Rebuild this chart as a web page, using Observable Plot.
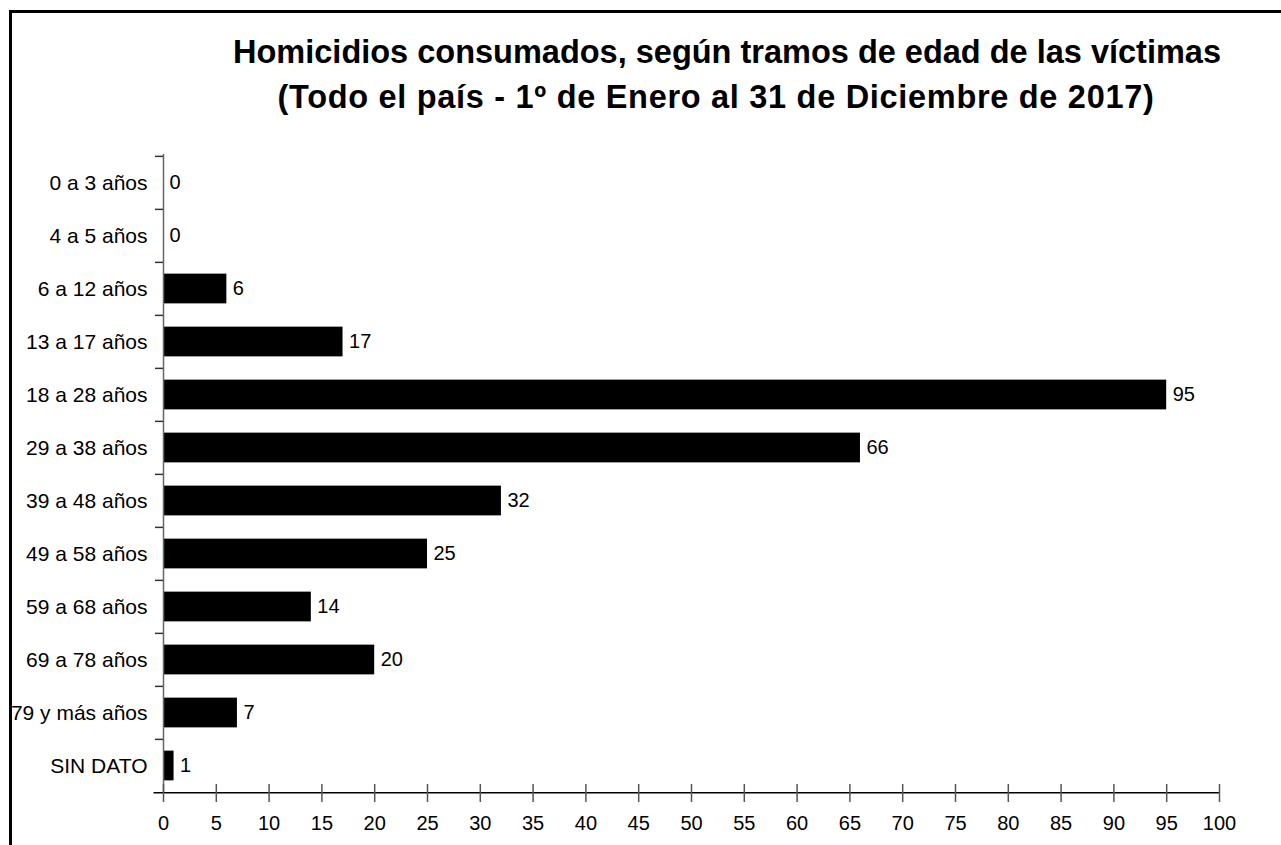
<!DOCTYPE html>
<html>
<head>
<meta charset="utf-8">
<script src="https://cdn.jsdelivr.net/npm/d3@7"></script>
<script src="https://cdn.jsdelivr.net/npm/@observablehq/plot@0.6"></script>
<style>
  html, body { margin: 0; padding: 0; background: #fff; }
  #wrap { position: relative; width: 1281px; height: 845px; overflow: hidden; font-family: "Liberation Sans", Arial, sans-serif; }
  #frame { position: absolute; left: 9px; top: 10px; right: -10px; bottom: -10px; border-left: 3px solid #000; border-top: 3px solid #000; z-index: 5; pointer-events: none; }
  .tline { position: absolute; width: 1200px; text-align: center; font-weight: bold; font-size: 32.5px; line-height: 44px; color: #000; z-index: 2; white-space: nowrap; }
  #t1 { left: 127px; top: 30px; }
  #t2 { left: 116px; top: 75px; letter-spacing: 0.7px; }
  #chart { position: absolute; left: 0; top: 0; }
</style>
</head>
<body>
<div id="wrap">
  <div id="frame"></div>
  <div class="tline" id="t1">Homicidios consumados, según tramos de edad de las víctimas</div>
  <div class="tline" id="t2">(Todo el país - 1º de Enero al 31 de Diciembre de 2017)</div>
  <div id="chart"></div>
</div>
<script>
const categories = ["0 a 3 años", "4 a 5 años", "6 a 12 años", "13 a 17 años", "18 a 28 años", "29 a 38 años", "39 a 48 años", "49 a 58 años", "59 a 68 años", "69 a 78 años", "79 y más años", "SIN DATO"];
const values = [0, 0, 6, 17, 95, 66, 32, 25, 14, 20, 7, 1];
const xTicks = d3.range(0, 101, 5);

const data = categories.map((c, i) => ({category: c, value: values[i]}));

const W = 1281, H = 845;
const mTop = 154, mBottom = 52, mLeft = 163, mRight = 62;
const innerH = H - mTop - mBottom;
const step = innerH / categories.length;
const barH = 30;
const inset = (step - barH) / 2;

const plot = Plot.plot({
  width: W,
  height: H,
  marginTop: mTop,
  marginBottom: mBottom,
  marginLeft: mLeft,
  marginRight: mRight,
  style: {fontFamily: "'Liberation Sans', Arial, sans-serif", fontSize: "21px", color: "#000", background: "transparent"},
  x: {domain: [0, 100], ticks: xTicks, label: null},
  y: {domain: categories, padding: 0, label: null},
  marks: [
    Plot.barX(data, {x: "value", y: "category", fill: "#000", insetTop: inset, insetBottom: inset}),
    Plot.text(data, {x: "value", y: "category", text: d => String(d.value), textAnchor: "start", dx: 6, fontSize: 20, fill: "#000"}),
    Plot.ruleX([0], {stroke: "#666", strokeWidth: 1.5}),
    Plot.ruleY(categories, {y: d => d, dy: -step / 2, x1: 0, x2: 0, insetLeft: -8, stroke: "#333", strokeWidth: 1.5}),
    Plot.ruleY([0], {y: () => categories[categories.length - 1], dy: step / 2, x1: -0.9, x2: 100, stroke: "#000", strokeWidth: 1.5}),
    Plot.tickX(xTicks, {x: d => d, insetTop: innerH - 9, stroke: "#555", strokeWidth: 1.5}),
    Plot.axisX({ticks: xTicks, tickSize: 9, tickPadding: 13, stroke: "#555", strokeWidth: 1.5, fontSize: 20, fill: "#000", label: null}),
    Plot.axisY({tickSize: 0, tickPadding: 16, fontSize: 21, fill: "#000", label: null})
  ]
});
document.getElementById("chart").appendChild(plot);
</script>
</body>
</html>
